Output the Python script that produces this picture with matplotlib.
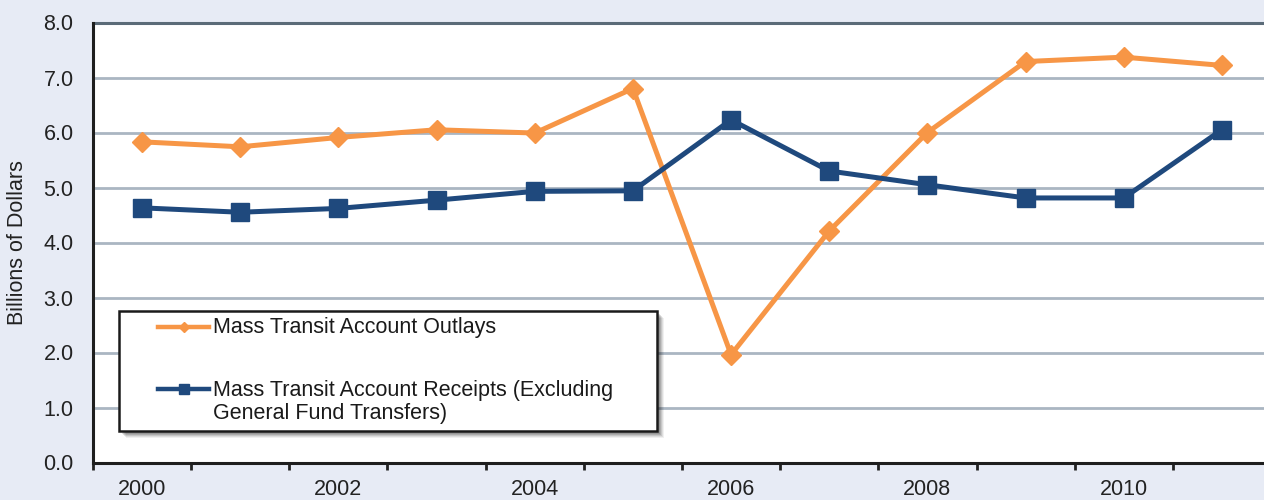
import matplotlib
matplotlib.use("Agg")
import matplotlib.pyplot as plt
from matplotlib.patches import Rectangle
from matplotlib.lines import Line2D

plt.rcParams['font.family'] = ['Liberation Sans', 'DejaVu Sans']

years = [2000, 2001, 2002, 2003, 2004, 2005, 2006, 2007, 2008, 2009, 2010, 2011]
outlays = [5.83, 5.74, 5.91, 6.05, 5.99, 6.80, 1.96, 4.21, 6.00, 7.29, 7.37, 7.22]
receipts = [4.63, 4.55, 4.62, 4.77, 4.93, 4.94, 6.23, 5.30, 5.05, 4.81, 4.81, 6.05]
outlays_label = "Mass Transit Account Outlays"
receipts_label = "Mass Transit Account Receipts (Excluding\nGeneral Fund Transfers)"
ylabels = ["0.0", "1.0", "2.0", "3.0", "4.0", "5.0", "6.0", "7.0", "8.0"]

ORANGE = "#f79646"
BLUE = "#1f497d"
BG = "#e7ebf5"
GRID = "#aab6c2"

W, H = 1264, 500
fig = plt.figure(figsize=(W / 100, H / 100), dpi=100, facecolor=BG)


def fx(px):
    return px / W


def fy(py):
    return 1 - py / H


# plot area runs a little past the right edge of the figure
ax = fig.add_axes([fx(93), fy(462.5), (1271 - 93) / W, (462.5 - 22.5) / H])
ax.set_facecolor("white")

x = list(range(len(years)))
ax.plot(x, outlays, color=ORANGE, lw=3.6, marker="D", ms=9.8, mew=1,
        mec=ORANGE, mfc=ORANGE, zorder=4, solid_joinstyle="miter")
ax.plot(x, receipts, color=BLUE, lw=3.6, marker="s", ms=12.5, mew=1,
        mec=BLUE, mfc=BLUE, zorder=5)

ax.set_xlim(-0.5, len(years) - 0.5)
ax.set_ylim(0, 8)

# category axis: labels on even years, tick marks between categories
ax.set_xticks([i for i, y in enumerate(years) if y % 2 == 0])
ax.set_xticklabels([str(y) for y in years if y % 2 == 0])
ax.set_xticks([i - 0.5 for i in range(len(years) + 1)], minor=True)
ax.tick_params(axis="x", which="major", length=0, pad=12, labelsize=15.5, colors="#222222")
ax.tick_params(axis="x", which="minor", length=5, width=2, direction="out", color="#222222")

ax.set_yticks(range(9))
ax.set_yticklabels(ylabels)
ax.tick_params(axis="y", length=0, pad=14, labelsize=15.5, colors="#222222")

ax.yaxis.grid(True, color=GRID, lw=2)
ax.set_axisbelow(True)

for side in ["left", "bottom"]:
    ax.spines[side].set_color("#1e1e1e")
    ax.spines[side].set_linewidth(2.2)
ax.spines["top"].set_color("#5b6b78")
ax.spines["top"].set_linewidth(2.2)
ax.spines["right"].set_visible(False)
ax.spines["left"].set_zorder(6)
ax.spines["bottom"].set_zorder(6)

ax.set_ylabel("Billions of Dollars", fontsize=15.5, color="#222222")
ax.yaxis.set_label_coords(-(93 - 28) / 1178, 0.5)

# legend box with soft shadow
lx0, ly0, lx1, ly1 = 119, 311, 657, 431
for off, a in [(7, 0.06), (6, 0.08), (5, 0.10), (4, 0.12), (3, 0.12)]:
    fig.patches.append(Rectangle((fx(lx0 + off), fy(ly1 + off)), fx(lx1 - lx0), (ly1 - ly0) / H,
                                 transform=fig.transFigure, facecolor="black",
                                 edgecolor="none", alpha=a, zorder=8))
fig.patches.append(Rectangle((fx(lx0), fy(ly1)), fx(lx1 - lx0), (ly1 - ly0) / H,
                             transform=fig.transFigure, facecolor="white",
                             edgecolor="#1a1a1a", lw=1.8, zorder=9))

h0, h1 = 158, 209
fig.lines.append(Line2D([fx(h0), fx(h1)], [fy(327), fy(327)], transform=fig.transFigure,
                        color=ORANGE, lw=3.2, zorder=10))
fig.lines.append(Line2D([fx((h0 + h1) / 2)], [fy(327)], transform=fig.transFigure,
                        color=ORANGE, marker="D", ms=5.5, zorder=11, linestyle="none"))
fig.lines.append(Line2D([fx(h0), fx(h1)], [fy(389), fy(389)], transform=fig.transFigure,
                        color=BLUE, lw=3.2, zorder=10))
fig.lines.append(Line2D([fx((h0 + h1) / 2)], [fy(389)], transform=fig.transFigure,
                        color=BLUE, marker="s", ms=7.5, zorder=11, linestyle="none"))

fig.text(fx(213), fy(327), outlays_label, fontsize=15.5, color="#1a1a1a",
         va="center", ha="left", zorder=12)
fig.text(fx(213), fy(380), receipts_label, fontsize=15.5, color="#1a1a1a",
         va="top", ha="left", linespacing=1.1, zorder=12)

fig.savefig("out.png", dpi=100, facecolor=BG)
